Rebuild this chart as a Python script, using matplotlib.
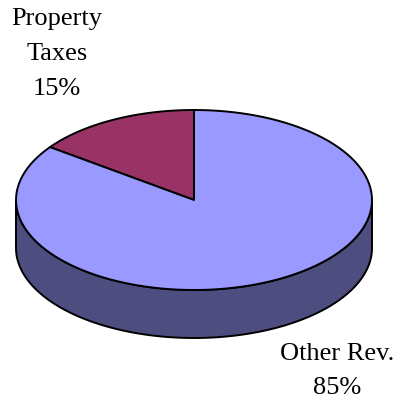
import numpy as np
import matplotlib.pyplot as plt
from matplotlib.patches import Polygon

labels = ["Property\nTaxes", "Other Rev."]
shares = [15, 85]
colors = ["#993366", "#9999FF"]
side_colors = ["#4D1A33", "#4D4D80"]

# ellipse geometry of the pie top (pixels)
cx, cy = 194, 200
rx, ry = 178, 90
depth = 48


def rim(a0, a1, dy=0, n=120):
    t = np.radians(np.linspace(a0, a1, n))
    return np.column_stack([cx + rx * np.cos(t), cy - ry * np.sin(t) + dy])


fig = plt.figure(figsize=(4.01, 4.03), dpi=100)
ax = fig.add_axes([0, 0, 1, 1])
ax.set_xlim(0, 401)
ax.set_ylim(403, 0)
ax.axis("off")

# slices start at 12 o'clock and run counter-clockwise
total = sum(shares)
starts = [90]
for s in shares[:-1]:
    starts.append(starts[-1] + 360 * s / total)
ends = [a + 360 * s / total for a, s in zip(starts, shares)]

# front wall (visible part lies between 180 and 360 degrees)
for a0, a1, sc in zip(starts, ends, side_colors):
    for lo, hi in [(180, 360), (540, 720)]:
        s0, s1 = max(a0, lo), min(a1, hi)
        if s1 > s0:
            top = rim(s0, s1)
            bot = rim(s1, s0, dy=depth)
            ax.add_patch(Polygon(np.vstack([top, bot]), closed=True,
                                 facecolor=sc, edgecolor="black", lw=1.4))

# top faces
for a0, a1, c in zip(starts, ends, colors):
    pts = np.vstack([[cx, cy], rim(a0, a1)])
    ax.add_patch(Polygon(pts, closed=True, facecolor=c,
                         edgecolor="black", lw=1.4, joinstyle="round"))

font = dict(family="Liberation Serif", fontsize=19, ha="center", va="center",
            linespacing=1.75)
ax.text(57, 54, f"{labels[0]}\n{shares[0]}%", **font)
ax.text(337, 371, f"{labels[1]}\n{shares[1]}%", **font)

fig.savefig("out.png", dpi=100, facecolor="white")
